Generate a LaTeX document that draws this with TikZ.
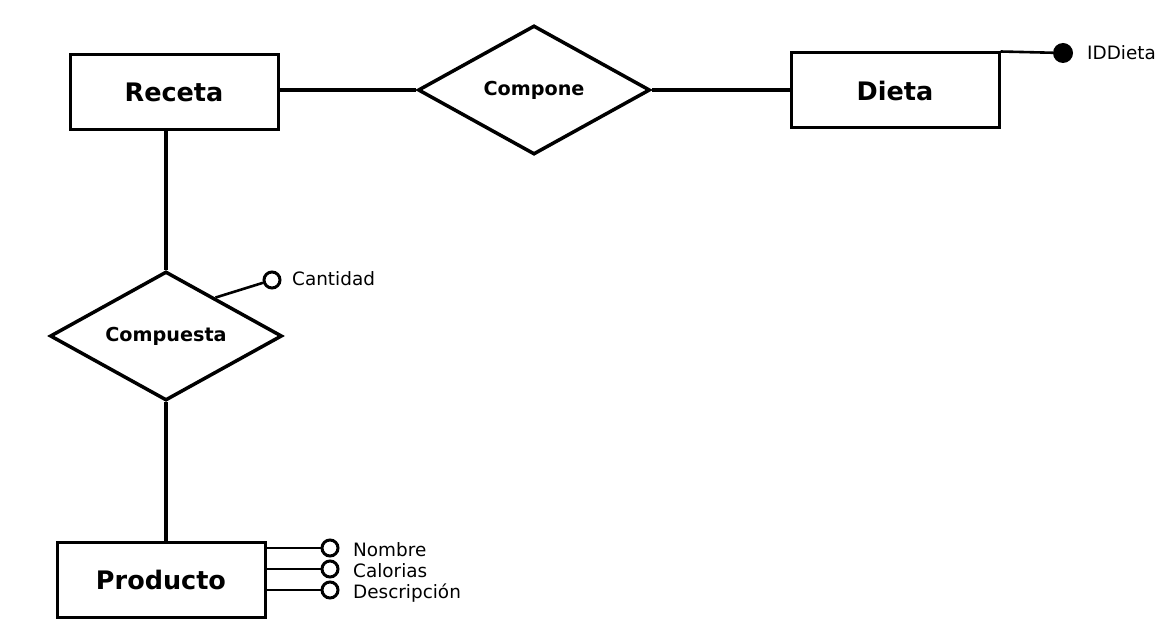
\documentclass[tikz,border=0pt]{standalone}
\usepackage{fontspec}
\setmainfont{DejaVu Sans}
\usetikzlibrary{shapes.geometric,calc}

\begin{document}
\begin{tikzpicture}[x=1pt,y=-1pt,
	entity/.style={rectangle, draw, line width=3pt, minimum width=208pt, minimum height=75pt, font=\fontsize{25.5}{30}\selectfont\bfseries},
	relation/.style={diamond, draw, line width=3.5pt, inner sep=0pt, aspect=1.8, minimum width=232pt, minimum height=129pt, font=\fontsize{19.2}{23}\selectfont\bfseries},
	link/.style={line width=4pt},
	attr/.style={line width=2.6pt},
	attrdot/.style={circle, draw, line width=3pt, inner sep=0pt, minimum size=16pt, fill=white},
	keydot/.style={circle, fill=black, inner sep=0pt, minimum size=20pt},
	attrname/.style={anchor=base west, inner sep=0pt, font=\fontsize{18.4}{22}\selectfont}]
\useasboundingbox (0,0) rectangle (1165,639);

\node [entity] (receta) at (174,92) {Receta};
\node [relation] (compone) at (534,90) {Compone};
\node [entity] (dieta) at (895,90.5) {Dieta};
\node [relation] (compuesta) at (166,336) {Compuesta};
\node [entity] (producto) at (161,580) {Producto};

\draw [link] (compone.west) -- (compone.west -| receta.east);
\draw [link] (compone.east) -- (compone.east -| dieta.west);
\draw [link] (compuesta.north) -- (compuesta.north |- receta.south);
\draw [link] (compuesta.south) -- (compuesta.south |- producto.north);

% clave de Dieta
\node [keydot] (iddieta) at (1063,53) {};
\draw [attr] (dieta.north east) -- (iddieta);
\node [attrname] (iddietatxt) at (1087,60) {IDDieta};

% atributo de Compuesta
\node [attrdot] (cantidad) at (272,280) {};
\coordinate (cantidadpie) at ($(compuesta.north)!0.42!(compuesta.east)$);
\draw [attr] (cantidadpie) -- (cantidad);
\node [attrname] (cantidadtxt) at (292,286) {Cantidad};

% atributos de Producto
\foreach \name/\txt/\y in {nombre/Nombre/548, calorias/Calorias/569, descripcion/Descripción/590} {
	\node [attrdot] (\name) at (330,\y) {};
	\draw [attr] (producto.east |- \name) -- (\name);
	\node [attrname] (\name txt) at (353,\y+8) {\txt};
}
\end{tikzpicture}
\end{document}
